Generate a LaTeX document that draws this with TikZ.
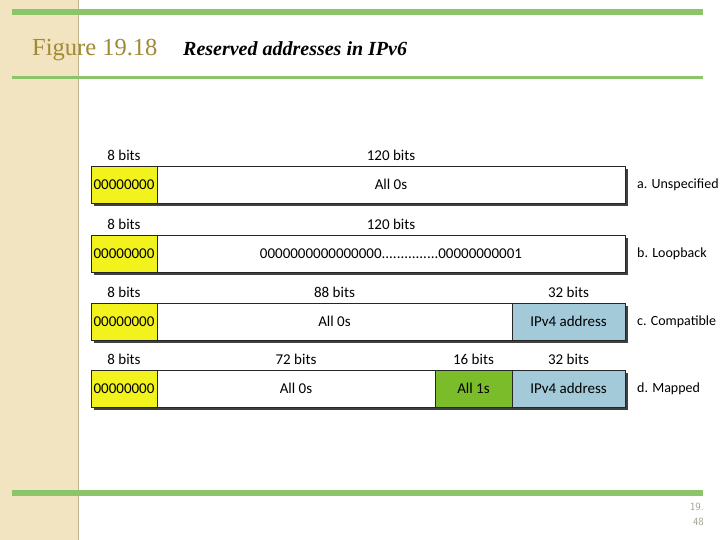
\documentclass[tikz,border=0pt]{standalone}
\usepackage{fontspec}
\setmainfont{Liberation Serif}
\newfontfamily\cellfont{Carlito}
\usetikzlibrary{positioning,shadows}

\definecolor{barGreen}{RGB}{140,196,106}
\definecolor{stripTan}{RGB}{242,228,192}
\definecolor{stripEdge}{RGB}{196,180,140}
\definecolor{figGold}{RGB}{160,138,52}
\definecolor{cellYellow}{RGB}{242,242,28}
\definecolor{cellBlue}{RGB}{162,202,216}
\definecolor{cellGreen}{RGB}{122,188,42}
\definecolor{pageGray}{RGB}{160,160,140}

\tikzset{
  cell/.style={draw=black!85, line width=0.8pt, minimum height=37pt, inner sep=0pt, outer sep=0pt,
    font=\cellfont\fontsize{15}{17}\selectfont,
    drop shadow={shadow xshift=3pt, shadow yshift=-3pt, fill=black!75, opacity=1}},
  bits/.style={font=\cellfont\fontsize{15}{17}\selectfont, inner sep=0pt},
  kind/.style={font=\cellfont\fontsize{14}{16}\selectfont, inner sep=0pt}
}

\begin{document}
\begin{tikzpicture}[x=1pt, y=-1pt]
  \useasboundingbox (0,0) rectangle (720,540);
  % slide frame
  \fill[stripTan] (0,0) rectangle (78,540);
  \draw[stripEdge, line width=1.2pt] (78.6,0) -- (78.6,540);
  \draw[barGreen, line width=6pt] (12,12.5) -- (703,12.5);
  \draw[barGreen, line width=3.5pt] (12,77.5) -- (703,77.5);
  \draw[barGreen, line width=6pt] (12,492.5) -- (703,492.5);

  \node[anchor=base west, font=\fontsize{24.5}{26}\selectfont, text=figGold, inner sep=0pt] (fig) at (32,56) {Figure 19.18};
  \node[anchor=base west, font=\bfseries\itshape\fontsize{20}{22}\selectfont, inner sep=0pt] (cap) at (183,56) {Reserved addresses in IPv6};

  % a. unspecified
  \node[cell, fill=cellYellow, minimum width=66pt, anchor=north west] (a1) at (91,166) {00000000};
  \node[cell, fill=white, minimum width=468pt, right=0pt of a1] (a2) {All 0s};
  \node[bits, above=5pt of a1] (a1b) {8 bits};
  \node[bits, above=5pt of a2] (a2b) {120 bits};
  \node[kind, right=12pt of a2] (ak) {a. Unspecified};

  % b. loopback
  \node[cell, fill=cellYellow, minimum width=66pt, anchor=north west] (b1) at (91,235) {00000000};
  \node[cell, fill=white, minimum width=468pt, right=0pt of b1] (b2) {0000000000000000...............00000000001};
  \node[bits, above=5pt of b1] (b1b) {8 bits};
  \node[bits, above=5pt of b2] (b2b) {120 bits};
  \node[kind, right=12pt of b2] (bk) {b. Loopback};

  % c. compatible
  \node[cell, fill=cellYellow, minimum width=66pt, anchor=north west] (c1) at (91,303) {00000000};
  \node[cell, fill=white, minimum width=355pt, right=0pt of c1] (c2) {All 0s};
  \node[cell, fill=cellBlue, minimum width=113pt, right=0pt of c2] (c3) {IPv4 address};
  \node[bits, above=5pt of c1] (c1b) {8 bits};
  \node[bits, above=5pt of c2] (c2b) {88 bits};
  \node[bits, above=5pt of c3] (c3b) {32 bits};
  \node[kind, right=12pt of c3] (ck) {c. Compatible};

  % d. mapped
  \node[cell, fill=cellYellow, minimum width=66pt, anchor=north west] (d1) at (91,370) {00000000};
  \node[cell, fill=white, minimum width=278pt, right=0pt of d1] (d2) {All 0s};
  \node[cell, fill=cellGreen, minimum width=77pt, right=0pt of d2] (d3) {All 1s};
  \node[cell, fill=cellBlue, minimum width=113pt, right=0pt of d3] (d4) {IPv4 address};
  \node[bits, above=5pt of d1] (d1b) {8 bits};
  \node[bits, above=5pt of d2] (d2b) {72 bits};
  \node[bits, above=5pt of d3] (d3b) {16 bits};
  \node[bits, above=5pt of d4] (d4b) {32 bits};
  \node[kind, right=12pt of d4] (dk) {d. Mapped};

  \node[anchor=north east, align=right, text=pageGray, font=\sffamily\fontsize{11}{15}\selectfont, inner sep=0pt] (pg) at (704,503) {19.\\48};
\end{tikzpicture}
\end{document}
